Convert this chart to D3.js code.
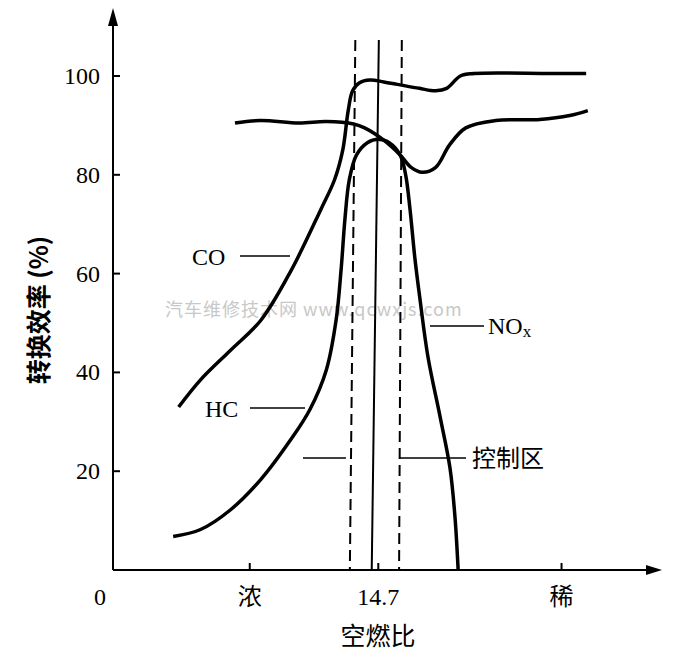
<!DOCTYPE html>
<html><head><meta charset="utf-8">
<script src="https://cdn.jsdelivr.net/npm/d3@7"></script>
<style>body{margin:0;background:#fff}</style>
</head><body>
<script>
// x in arbitrary air-fuel position units (0..100), y in efficiency %
const yTicks = [20, 40, 60, 80, 100];
const xTicks = [{ x: 25, label: '浓' }, { x: 48.5, label: '14.7' }, { x: 82, label: '稀' }];
const coCurve = [[12, 33], [16, 38.5], [21.5, 44.5], [27, 50.5], [32.5, 60.5], [38, 73], [40.5, 79], [42, 85], [43, 93], [43.8, 97], [45, 98.6], [47, 99.2], [49.5, 98.8], [52, 98.3], [56, 97.5], [59, 97], [61, 97.5], [63.5, 100], [66, 100.5], [80, 100.5], [86.5, 100.5]];
const hcCurve = [[22.3, 90.5], [27, 91], [34, 90.5], [39, 90.8], [44, 90.3], [46, 89.5], [49.5, 87], [52.5, 84], [54.5, 81.5], [56.5, 80.5], [59, 81.5], [61.5, 86], [64.5, 89.5], [70, 91], [78, 91.2], [83.5, 92], [86.8, 93]];
const noxCurve = [[11, 6.8], [16, 8.2], [21.5, 12.2], [27, 18.3], [32.5, 26.4], [36, 32.5], [39, 40.5], [40.8, 50.7], [41.7, 60.8], [42.4, 71], [43.2, 79], [44.5, 84], [46.5, 86.5], [48.5, 87.2], [50.5, 86.5], [52.5, 84], [53.5, 80], [54.3, 73], [55.2, 63], [56.1, 55], [57.6, 43], [59.8, 31], [61.6, 20.7], [62.5, 11], [63.1, 0]];
const vLines = [{ x0: 44.3, x1: 43.3, dash: '11,6' }, { x0: 48.6, x1: 47.3, dash: null }, { x0: 52.8, x1: 52.3, dash: '11,6' }];

const W = 675, H = 665;
const x = d3.scaleLinear().domain([0, 100]).range([113, 660]);
const y = d3.scaleLinear().domain([0, 100]).range([570, 76]);
const svg = d3.select('body').append('svg').attr('width', W).attr('height', H);
const serif = 'Liberation Serif, DejaVu Serif, serif';
const cjk = 'Noto Sans CJK SC, sans-serif';

// watermark
svg.append('text').attr('x', 165).attr('y', 316).attr('font-family', cjk)
  .attr('font-size', 18).attr('fill', '#c8c8c8').attr('letter-spacing', 1)
  .text('汽车维修技术网 www.qcwxjs.com');

// axes
svg.append('line').attr('x1', x(0)).attr('x2', 652).attr('y1', y(0)).attr('y2', y(0)).attr('stroke', '#000').attr('stroke-width', 2);
svg.append('path').attr('d', `M662,${y(0)} L646,${y(0) - 5} L646,${y(0) + 5}Z`);
svg.append('line').attr('x1', x(0)).attr('x2', x(0)).attr('y1', y(0)).attr('y2', 20).attr('stroke', '#000').attr('stroke-width', 2);
svg.append('path').attr('d', `M${x(0)},8 L${x(0) - 5},26 L${x(0) + 5},26Z`);

yTicks.forEach(t => {
  svg.append('line').attr('x1', x(0)).attr('x2', x(0) + 7).attr('y1', y(t)).attr('y2', y(t)).attr('stroke', '#000').attr('stroke-width', 2);
  svg.append('text').attr('x', x(0) - 13).attr('y', y(t) + 8).attr('text-anchor', 'end')
    .attr('font-family', serif).attr('font-size', 24).text(t);
});
svg.append('text').attr('x', 100).attr('y', 605).attr('text-anchor', 'middle').attr('font-family', serif).attr('font-size', 24).text('0');
xTicks.forEach(t => {
  svg.append('line').attr('x1', x(t.x)).attr('x2', x(t.x)).attr('y1', y(0)).attr('y2', y(0) - 7).attr('stroke', '#000').attr('stroke-width', 2);
  svg.append('text').attr('x', x(t.x)).attr('y', 605).attr('text-anchor', 'middle')
    .attr('font-family', t.label === '14.7' ? serif : cjk).attr('font-size', 24).text(t.label);
});
svg.append('text').attr('x', 378).attr('y', 645).attr('text-anchor', 'middle').attr('font-family', cjk).attr('font-size', 25).text('空燃比');
svg.append('text').attr('transform', 'translate(48,310) rotate(-90)').attr('text-anchor', 'middle')
  .attr('font-family', cjk).attr('font-size', 25).attr('font-weight', 'bold').text('转换效率 (%)');

// vertical lines
vLines.forEach(v => {
  svg.append('line').attr('x1', x(v.x0)).attr('x2', x(v.x1)).attr('y1', 40).attr('y2', y(0))
    .attr('stroke', '#000').attr('stroke-width', 2).attr('stroke-dasharray', v.dash);
});

// curves
const line = d3.line().x(d => x(d[0])).y(d => y(d[1])).curve(d3.curveCatmullRom);
[coCurve, hcCurve, noxCurve].forEach(c => {
  svg.append('path').attr('d', line(c)).attr('fill', 'none').attr('stroke', '#000').attr('stroke-width', 3.5);
});

// labels with leaders
const lab = (tx, ty, txt, lx1, lx2, ly, fam) => {
  svg.append('text').attr('x', tx).attr('y', ty).attr('font-family', fam || serif).attr('font-size', 24).text(txt);
  svg.append('line').attr('x1', lx1).attr('x2', lx2).attr('y1', ly).attr('y2', ly).attr('stroke', '#000').attr('stroke-width', 1.5);
};
lab(192, 265, 'CO', 240, 290, 256);
lab(205, 417, 'HC', 250, 305, 408);
const nox = svg.append('text').attr('x', 488).attr('y', 334).attr('font-family', serif).attr('font-size', 24);
nox.append('tspan').text('NO');
nox.append('tspan').attr('font-size', 17).attr('dy', 3).text('x');
svg.append('line').attr('x1', 430).attr('x2', 484).attr('y1', 326).attr('y2', 326).attr('stroke', '#000').attr('stroke-width', 1.5);
lab(472, 467, '控制区', 400, 466, 458, cjk);
svg.append('line').attr('x1', 303).attr('x2', 346).attr('y1', 458).attr('y2', 458).attr('stroke', '#000').attr('stroke-width', 1.5);
</script>
</body></html>
